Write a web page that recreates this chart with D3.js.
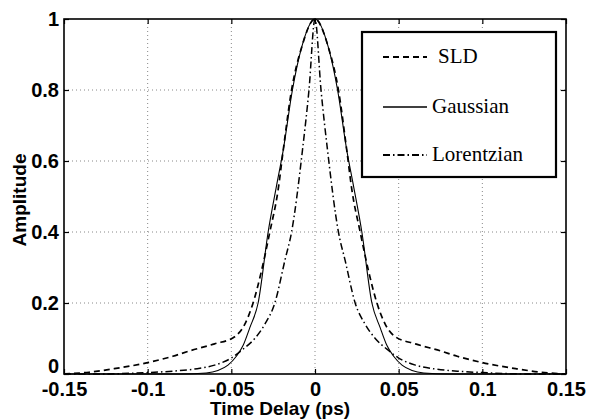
<!DOCTYPE html>
<html><head><meta charset="utf-8">
<script src="https://cdn.jsdelivr.net/npm/d3@7"></script>
<style>body{margin:0;background:#fff}svg{display:block}</style>
</head><body>
<svg id="c" width="589" height="419"></svg>
<script>
// ---- data ----
const sldX = [-0.15,-0.135,-0.12,-0.1,-0.085,-0.075,-0.06,-0.048,-0.042,-0.037,-0.032,-0.027,-0.022,-0.019,-0.014,-0.008,0,0.008,0.014,0.019,0.022,0.027,0.032,0.037,0.042,0.048,0.06,0.075,0.085,0.1,0.12,0.135,0.15];
const sldY = [0,0.005,0.015,0.032,0.05,0.065,0.085,0.105,0.14,0.2,0.29,0.4,0.52,0.63,0.8,0.92,1,0.92,0.8,0.63,0.52,0.4,0.29,0.2,0.14,0.105,0.085,0.065,0.05,0.032,0.015,0.005,0];

const gaussX = [-0.15,-0.08,-0.065,-0.058,-0.052,-0.047,-0.043,-0.039,-0.034,-0.028,-0.023,-0.019,-0.0135,-0.008,0,0.008,0.0135,0.019,0.023,0.028,0.034,0.039,0.043,0.047,0.052,0.058,0.065,0.08,0.15];
const gaussY = [0,0,0.003,0.01,0.025,0.05,0.08,0.13,0.2,0.4,0.53,0.63,0.8,0.92,1,0.92,0.8,0.63,0.53,0.4,0.2,0.13,0.08,0.05,0.025,0.01,0.003,0,0];

const lorX = [-0.15,-0.13,-0.1,-0.085,-0.072,-0.06,-0.05,-0.043,-0.036,-0.03,-0.024,-0.018,-0.014,-0.0075,-0.0036,0,0.0036,0.0075,0.014,0.018,0.024,0.03,0.036,0.043,0.05,0.06,0.072,0.085,0.1,0.13,0.15];
const lorY = [0,0,0.004,0.008,0.014,0.025,0.045,0.07,0.1,0.14,0.2,0.32,0.4,0.63,0.8,1,0.8,0.63,0.4,0.32,0.2,0.14,0.1,0.07,0.045,0.025,0.014,0.008,0.004,0,0];

const xTicks = [-0.15,-0.1,-0.05,0,0.05,0.1,0.15];
const xTickLabels = ["-0.15","-0.1","-0.05","0","0.05","0.1","0.15"];
const yTicks = [0,0.2,0.4,0.6,0.8,1];
const yTickLabels = ["0","0.2","0.4","0.6","0.8","1"];
const seriesNames = ["SLD","Gaussian","Lorentzian"];

// ---- layout ----
const L=64, R=566, T=19, B=374;
const svg = d3.select("#c");
const x = d3.scaleLinear().domain([-0.15,0.15]).range([L,R]);
const y = d3.scaleLinear().domain([0,1]).range([B,T]);

// grid
const g = svg.append("g");
g.selectAll(".gx").data(xTicks.slice(1,-1)).enter().append("line")
 .attr("x1",d=>x(d)).attr("x2",d=>x(d)).attr("y1",T).attr("y2",B)
 .attr("stroke","#888").attr("stroke-width",1).attr("stroke-dasharray","1,3");
g.selectAll(".gy").data(yTicks.slice(1,-1)).enter().append("line")
 .attr("y1",d=>y(d)).attr("y2",d=>y(d)).attr("x1",L).attr("x2",R)
 .attr("stroke","#888").attr("stroke-width",1).attr("stroke-dasharray","1,3");

// axes with inward ticks
const font = "'Liberation Sans', Arial, sans-serif";
const xAxis = svg.append("g").attr("transform",`translate(0,${B})`)
 .call(d3.axisBottom(x).tickValues(xTicks).tickFormat((d,i)=>xTickLabels[i]).tickSizeInner(-5).tickSizeOuter(0).tickPadding(8));
const yAxis = svg.append("g").attr("transform",`translate(${L},0)`)
 .call(d3.axisLeft(y).tickValues(yTicks).tickFormat((d,i)=>yTickLabels[i]).tickSizeInner(-5).tickSizeOuter(0).tickPadding(5));
const xTop = svg.append("g").attr("transform",`translate(0,${T})`)
 .call(d3.axisTop(x).tickValues(xTicks).tickFormat("").tickSizeInner(-5).tickSizeOuter(0));
const yRight = svg.append("g").attr("transform",`translate(${R},0)`)
 .call(d3.axisRight(y).tickValues(yTicks).tickFormat("").tickSizeInner(-5).tickSizeOuter(0));
[xAxis,yAxis,xTop,yRight].forEach(a=>{
  a.select(".domain").remove();
  a.selectAll("line").attr("stroke","#000").attr("stroke-width",1.2);
  a.selectAll("text").attr("font-family",font).attr("font-size",20).attr("font-weight","bold").attr("fill","#000");
});
yAxis.selectAll(".tick").filter(d=>d===0).select("text").attr("dy","-0.1em");
svg.append("rect").attr("x",L).attr("y",T).attr("width",R-L).attr("height",B-T)
 .attr("fill","none").attr("stroke","#000").attr("stroke-width",1.6);

// axis titles
svg.append("text").attr("x",280).attr("y",415).attr("text-anchor","middle")
 .attr("font-family",font).attr("font-size",19).attr("font-weight","bold").text("Time Delay (ps)");
svg.append("text").attr("transform","translate(26,200) rotate(-90)").attr("text-anchor","middle")
 .attr("font-family",font).attr("font-size",19).attr("font-weight","bold").text("Amplitude");

// curves
const line = d3.line().x(d=>x(d[0])).y(d=>y(d[1])).curve(d3.curveMonotoneX);
const styles = [
  {dash:"6,4", w:1.7},
  {dash:null, w:1.1},
  {dash:"7,3,1.5,3", w:1.5}
];
const data = [d3.zip(sldX,sldY), d3.zip(gaussX,gaussY), d3.zip(lorX,lorY)];
data.forEach((d,i)=>{
  svg.append("path").datum(d).attr("d",line).attr("fill","none")
   .attr("stroke","#000").attr("stroke-width",styles[i].w)
   .attr("stroke-dasharray",styles[i].dash);
});

// legend
const lg = svg.append("g");
lg.append("rect").attr("x",362).attr("y",32).attr("width",194).attr("height",145)
 .attr("fill","#fff").attr("stroke","#000").attr("stroke-width",2.2);
const ly = [57,107,155];
const tx = [438,432,432];
seriesNames.forEach((n,i)=>{
  lg.append("line").attr("x1",383).attr("x2",427).attr("y1",ly[i]).attr("y2",ly[i])
   .attr("stroke","#000").attr("stroke-width",styles[i].w+0.3).attr("stroke-dasharray",styles[i].dash);
  lg.append("text").attr("x",tx[i]).attr("y",ly[i]+6).attr("font-family","'Liberation Serif','Times New Roman',serif")
   .attr("font-size",21).attr("fill","#000").text(n);
});
</script>
</body></html>
